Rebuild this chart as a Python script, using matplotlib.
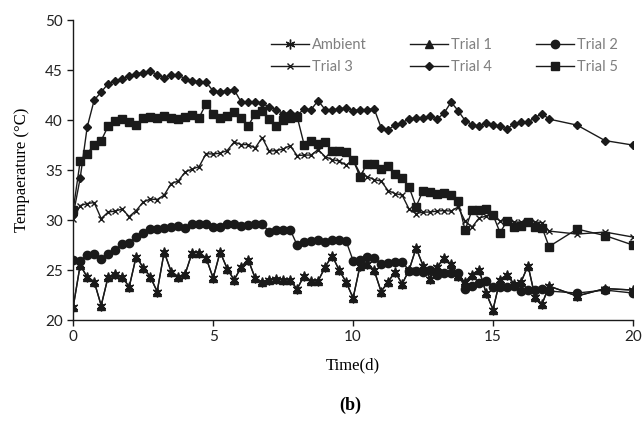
import numpy as np
import matplotlib
matplotlib.use("Agg")
import matplotlib.pyplot as plt

# time axis: every 0.25 d up to day 17, then daily
time_d = list(np.arange(0, 17.01, 0.25)) + [18, 19, 20]

trial1 = [21.3, 25.5, 24.3, 23.85, 21.45, 24.35, 24.6, 24.35, 23.3, 26.35, 25.25, 24.35,
          22.85, 26.8, 24.85, 24.35, 24.6, 26.75, 26.75, 26.2, 24.2, 26.8, 25.15, 24.0,
          25.3, 26.05, 24.2, 23.8, 24.0, 24.1, 24.0, 24.0, 23.1, 24.45, 23.9, 23.9,
          25.3, 26.45, 25.0, 23.8, 22.2, 25.45, 25.65, 25.0, 22.85, 23.8, 24.85, 23.6,
          25.0, 27.2, 25.45, 24.15, 25.3, 26.2, 25.6, 24.45, 23.8, 24.55, 25.05, 22.7,
          21.05, 24.05, 24.55, 23.6, 23.8, 25.45, 22.3, 21.6, 23.4, 22.4, 23.15, 23.0]

ambient = list(trial1)

trial2 = [26.05, 25.95, 26.5, 26.6, 26.15, 26.65, 27.0, 27.6, 27.75, 28.35, 28.75, 29.1,
          29.1, 29.25, 29.3, 29.45, 29.25, 29.6, 29.6, 29.65, 29.35, 29.35, 29.65, 29.6,
          29.45, 29.55, 29.65, 29.65, 28.8, 29.0, 29.05, 29.05, 27.5, 27.8, 27.95, 28.05,
          27.8, 28.0, 28.0, 27.9, 25.95, 26.05, 26.3, 26.2, 25.65, 25.75, 25.85, 25.85,
          24.95, 24.95, 24.85, 25.05, 24.55, 24.7, 24.7, 24.7, 23.15, 23.45, 23.75, 23.9,
          23.3, 23.3, 23.3, 23.4, 22.9, 23.0, 23.0, 23.15, 22.9, 22.7, 23.0, 22.7]

trial3 = [30.1, 31.45, 31.65, 31.75, 30.15, 30.8, 30.9, 31.1, 30.35, 30.95, 31.8, 32.1,
          32.05, 32.5, 33.65, 33.9, 34.8, 35.1, 35.35, 36.65, 36.6, 36.7, 36.95, 37.8,
          37.55, 37.55, 37.2, 38.25, 36.9, 36.95, 37.1, 37.45, 36.45, 36.5, 36.5, 37.05,
          36.35, 36.05, 35.9, 35.5, 36.0, 34.65, 34.35, 34.05, 33.9, 32.95, 32.65, 32.5,
          31.1, 30.65, 30.8, 30.8, 30.9, 30.95, 30.9, 31.3, 29.9, 29.3, 30.2, 30.4,
          30.5, 29.9, 29.95, 29.8, 29.8, 29.9, 29.8, 29.75, 28.9, 28.6, 28.8, 28.3]

trial4 = [30.5, 34.2, 39.3, 42.0, 42.8, 43.65, 43.9, 44.1, 44.4, 44.65, 44.75, 44.9,
          44.55, 44.25, 44.55, 44.55, 44.1, 43.95, 43.85, 43.8, 42.9, 42.85, 42.95, 43.05,
          41.8, 41.8, 41.85, 41.7, 41.3, 41.05, 40.65, 40.75, 40.5, 41.1, 41.05, 41.95,
          41.05, 41.05, 41.1, 41.25, 40.95, 41.05, 41.05, 41.15, 39.25, 39.05, 39.5, 39.75,
          40.1, 40.25, 40.25, 40.4, 40.1, 40.7, 41.8, 40.95, 39.95, 39.55, 39.4, 39.75,
          39.55, 39.4, 39.1, 39.65, 39.8, 39.8, 40.25, 40.65, 40.1, 39.5, 37.95, 37.5]

trial5 = [31.0, 35.9, 36.65, 37.55, 37.95, 39.4, 39.95, 40.1, 39.85, 39.5, 40.2, 40.35,
          40.25, 40.4, 40.25, 40.1, 40.35, 40.55, 40.25, 41.65, 40.65, 40.2, 40.4, 40.8,
          40.2, 39.4, 40.65, 40.95, 40.1, 39.4, 40.05, 40.2, 40.35, 37.55, 37.95, 37.65,
          37.8, 36.9, 36.9, 36.8, 36.0, 34.35, 35.65, 35.6, 35.1, 35.4, 34.65, 34.2,
          33.3, 31.35, 32.95, 32.8, 32.65, 32.7, 32.5, 31.9, 29.0, 31.0, 31.05, 31.15,
          30.5, 28.75, 29.9, 29.35, 29.45, 29.85, 29.35, 29.25, 27.35, 29.1, 28.45, 27.5]

x_ticks = [0, 5, 10, 15, 20]
y_ticks = [20, 25, 30, 35, 40, 45, 50]

ink = "#1a1a1a"

fig = plt.figure(figsize=(6.42, 4.47), dpi=100)
ax = fig.add_axes([0.114, 0.284, 0.872, 0.671])

series = [
    ("Ambient", ambient, dict(marker=(6, 2, 0), ms=7, mew=1.0)),
    ("Trial 1", trial1, dict(marker="^", ms=6)),
    ("Trial 2", trial2, dict(marker="o", ms=6)),
    ("Trial 3", trial3, dict(marker="x", ms=5, mew=1.0)),
    ("Trial 4", trial4, dict(marker="D", ms=4.5)),
    ("Trial 5", trial5, dict(marker="s", ms=6)),
]
lines = {}
for name, vals, style in series:
    ln, = ax.plot(time_d, vals, color=ink, lw=1.0, mfc=ink, mec=ink,
                  label=name, **style)
    lines[name] = ln

ax.set_xlim(0, 20)
ax.set_ylim(20, 50)
ax.set_xticks(x_ticks)
ax.set_yticks(y_ticks)
ax.spines["top"].set_visible(False)
ax.spines["right"].set_visible(False)
for s in ("left", "bottom"):
    ax.spines[s].set_color(ink)
    ax.spines[s].set_linewidth(1.0)
ax.tick_params(direction="out", length=4, width=1.0, color=ink,
               labelsize=11, labelcolor="#222222")
for lbl in ax.get_xticklabels() + ax.get_yticklabels():
    lbl.set_family("Lato")

ax.set_xlabel("Time(d)", family="Liberation Serif", fontsize=12, labelpad=9)
ax.set_ylabel("Tempaerature (\u00b0C)", family="Liberation Serif", fontsize=12, labelpad=11)

# legend: 2 rows x 3 columns, filled column-wise
order = ["Ambient", "Trial 3", "Trial 1", "Trial 4", "Trial 2", "Trial 5"]
leg = ax.legend([lines[n] for n in order], order, ncol=3, frameon=False,
                loc="upper left", bbox_to_anchor=(0.33, 0.985),
                handlelength=2.6, handletextpad=0.2, columnspacing=3.0,
                labelspacing=0.55, prop={"family": "Lato", "size": 10.5})
for t in leg.get_texts():
    t.set_color("#7f7f7f")

fig.text(0.545, 0.094, "(b)", family="Liberation Serif", fontweight="bold",
         fontsize=13, ha="center", va="center")

fig.savefig("out.png", dpi=100)
